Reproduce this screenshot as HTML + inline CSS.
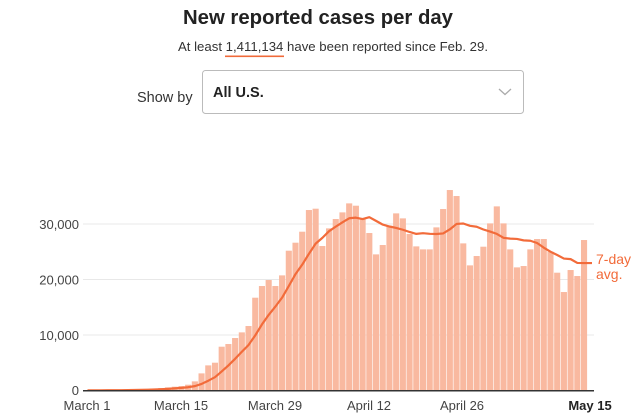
<!DOCTYPE html>
<html><head><meta charset="utf-8"><style>
html,body{margin:0;padding:0;background:#fff;width:635px;height:419px;overflow:hidden}
svg text{font-family:"Liberation Sans",sans-serif}
</style></head><body>
<svg id="s" width="635" height="419" viewBox="0 0 635 419" xmlns="http://www.w3.org/2000/svg">
<text x="318" y="24" text-anchor="middle" font-size="20" font-weight="bold" fill="#222" textLength="270" lengthAdjust="spacingAndGlyphs">New reported cases per day</text>
<text x="333" y="51" text-anchor="middle" font-size="13.3" fill="#333" textLength="310" lengthAdjust="spacingAndGlyphs">At least 1,411,134 have been reported since Feb. 29.</text>
<rect x="225" y="55.5" width="59" height="1.6" fill="#f06a3a"/>
<text x="137" y="102" font-size="14.5" fill="#333">Show by</text>
<rect x="202.5" y="70.5" width="321" height="43" rx="3" fill="#fff" stroke="#bbb"/>
<text x="213" y="97" font-size="14.5" font-weight="bold" fill="#222">All U.S.</text>
<polyline points="499,89 505,94.5 511,89" fill="none" stroke="#aaa" stroke-width="1.3"/>
<g id="grid"></g>
<g id="bars"></g>
<path id="avg" fill="none" stroke="#f26b3a" stroke-width="2.2" stroke-linejoin="round"/>
<line x1="83" y1="390.7" x2="594" y2="390.7" stroke="#333" stroke-width="1.5"/>
<text x="79" y="395" text-anchor="end" font-size="13" fill="#444">0</text>
<text x="79" y="340" text-anchor="end" font-size="13" fill="#444">10,000</text>
<text x="79" y="284.5" text-anchor="end" font-size="13" fill="#444">20,000</text>
<text x="79" y="229" text-anchor="end" font-size="13" fill="#444">30,000</text>
<text x="87" y="410" text-anchor="middle" font-size="13" fill="#444">March 1</text>
<text x="181" y="410" text-anchor="middle" font-size="13" fill="#444">March 15</text>
<text x="275" y="410" text-anchor="middle" font-size="13" fill="#444">March 29</text>
<text x="369" y="410" text-anchor="middle" font-size="13" fill="#444">April 12</text>
<text x="462" y="410" text-anchor="middle" font-size="13" fill="#444">April 26</text>
<text x="590" y="410" text-anchor="middle" font-size="13" font-weight="bold" fill="#222">May 15</text>
<text x="596" y="264" font-size="14" fill="#f26b3a">7-day</text>
<text x="596" y="279" font-size="14" fill="#f26b3a">avg.</text>
</svg>
<script>
var tops=[631,631,631,630,630,630,629,629,628,627,626,624,622,620,618,614,604,580,556,548,500,492,474,457,438,353,318,300,318,286,212,188,155,90,86,198,145,117,97,70,77,115,159,223,195,137,100,115,162,199,208,208,142,87,30,48,190,256,228,200,130,79,130,208,262,258,208,177,177,215,278,336,270,288,180];
var NS="http://www.w3.org/2000/svg",base=390.7;
var g=document.getElementById("grid");
[335,279.5,224].forEach(function(y){var l=document.createElementNS(NS,"line");l.setAttribute("x1",83);l.setAttribute("x2",594);l.setAttribute("y1",y);l.setAttribute("y2",y);l.setAttribute("stroke","#e8e8e8");l.setAttribute("stroke-width","1");g.appendChild(l);});
var b=document.getElementById("bars"),h=tops.map(function(t){return (632-t)/3;});
var d="";
for(var i=0;i<h.length;i++){var cx=87.5+6.71*i;
var r=document.createElementNS(NS,"rect");r.setAttribute("x",(cx-3.05).toFixed(2));r.setAttribute("width","6.1");r.setAttribute("y",(base-h[i]).toFixed(2));r.setAttribute("height",h[i].toFixed(2));r.setAttribute("fill","#f9b9a0");b.appendChild(r);
var s=0,n=0;for(var j=Math.max(0,i-6);j<=i;j++){s+=h[j];n++;}
var a=s/n;d+=(i?"L":"M")+cx.toFixed(2)+","+(base-a).toFixed(2);}
d+="L592,"+(base-h.slice(-7).reduce(function(p,c){return p+c;},0)/7).toFixed(2);
document.getElementById("avg").setAttribute("d",d);
</script>
</body></html>
